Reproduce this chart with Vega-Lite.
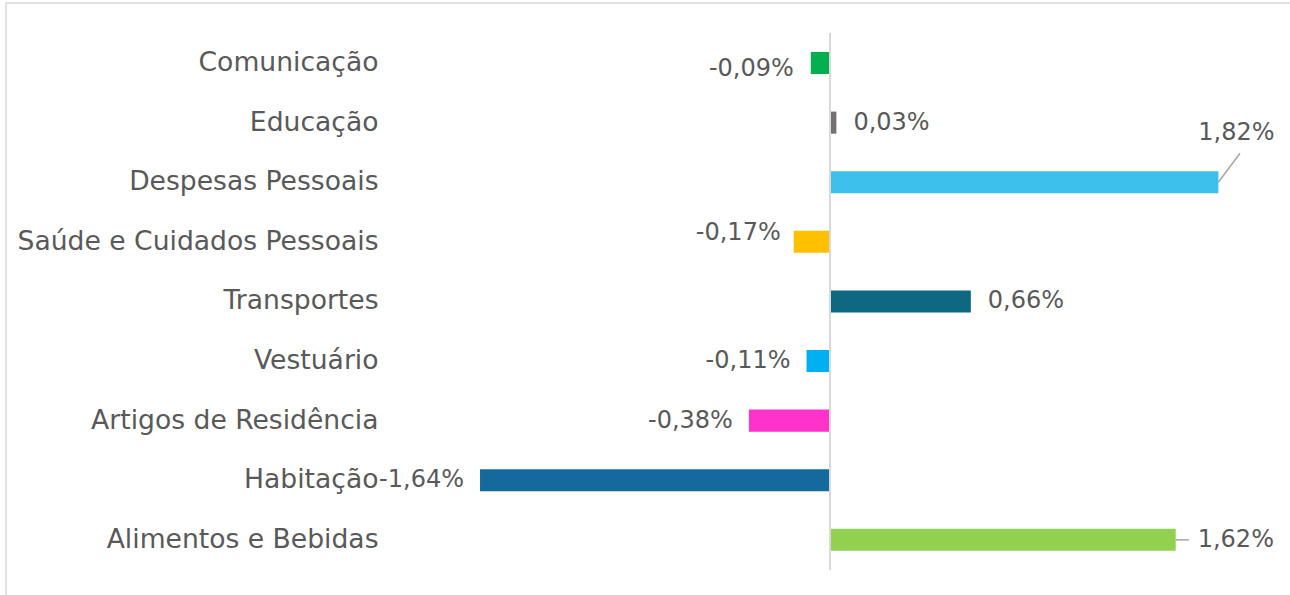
{
  "$schema": "https://vega.github.io/schema/vega-lite/v6.json",
  "width": 1290,
  "height": 600,
  "autosize": {"type": "none"},
  "padding": {"left": 6, "top": 3, "right": 0, "bottom": 0},
  "background": "#ffffff",
  "config": {
    "view": {"stroke": "#d9d9d9", "strokeWidth": 1.5},
    "locale": {"number": {"decimal": ",", "thousands": ".", "grouping": [3], "currency": ["", "%"], "minus": "-"}},
    "text": {"font": "DejaVu Sans", "fontSize": 24, "color": "#595959", "baseline": "middle"}
  },
  "data": {"values": [
    {"cat": "Comunicação", "value": -0.09},
    {"cat": "Educação", "value": 0.03},
    {"cat": "Despesas Pessoais", "value": 1.82},
    {"cat": "Saúde e Cuidados Pessoais", "value": -0.17},
    {"cat": "Transportes", "value": 0.66},
    {"cat": "Vestuário", "value": -0.11},
    {"cat": "Artigos de Residência", "value": -0.38},
    {"cat": "Habitação", "value": -1.64},
    {"cat": "Alimentos e Bebidas", "value": 1.62}
  ]},
  "encoding": {
    "y": {
      "field": "cat", "type": "nominal", "sort": null,
      "scale": {"paddingInner": 0.63, "paddingOuter": 0.8487, "align": 0.4844},
      "axis": {"title": null, "ticks": false, "domain": false, "grid": false, "labelPadding": 0, "offset": -372,
               "labelFont": "DejaVu Sans", "labelFontSize": 26.6, "labelColor": "#595959", "labelLimit": 500, "labelAlign": "right", "labelBaseline": "middle"}
    },
    "x": {"field": "value", "type": "quantitative", "scale": {"domain": [-3.8613, 2.1837], "nice": false}, "axis": null}
  },
  "layer": [
    {
      "mark": {"type": "bar"},
      "encoding": {
        "color": {"field": "cat", "type": "nominal", "legend": null,
          "scale": {"domain": ["Comunicação", "Educação", "Despesas Pessoais", "Saúde e Cuidados Pessoais", "Transportes", "Vestuário", "Artigos de Residência", "Habitação", "Alimentos e Bebidas"],
                    "range": ["#00B050", "#767171", "#3DC0EB", "#FFC000", "#0E6882", "#00B0F0", "#FF33CC", "#146A9C", "#92D050"]}}
      }
    },
    {
      "transform": [{"filter": "datum.value < 0 && datum.cat != 'Comunicação' && datum.cat != 'Saúde e Cuidados Pessoais'"}],
      "mark": {"type": "text", "align": "right", "dx": -16},
      "encoding": {"text": {"field": "value", "type": "quantitative", "format": "$.2f"}}
    },
    {
      "transform": [{"filter": "datum.cat == 'Comunicação'"}],
      "mark": {"type": "text", "align": "right", "dx": -17, "dy": 6},
      "encoding": {"text": {"field": "value", "type": "quantitative", "format": "$.2f"}}
    },
    {
      "transform": [{"filter": "datum.cat == 'Saúde e Cuidados Pessoais'"}],
      "mark": {"type": "text", "align": "right", "dx": -13, "dy": -9},
      "encoding": {"text": {"field": "value", "type": "quantitative", "format": "$.2f"}}
    },
    {
      "transform": [{"filter": "datum.cat == 'Educação' || datum.cat == 'Transportes'"}],
      "mark": {"type": "text", "align": "left", "dx": 17},
      "encoding": {"text": {"field": "value", "type": "quantitative", "format": "$.2f"}}
    },
    {
      "transform": [{"filter": "datum.cat == 'Alimentos e Bebidas'"}],
      "mark": {"type": "text", "align": "left", "dx": 22},
      "encoding": {"text": {"field": "value", "type": "quantitative", "format": "$.2f"}}
    },
    {
      "transform": [{"filter": "datum.cat == 'Despesas Pessoais'"}],
      "mark": {"type": "text", "align": "center", "dx": 18, "dy": -49},
      "encoding": {"text": {"field": "value", "type": "quantitative", "format": "$.2f"}}
    },
    {
      "transform": [{"filter": "datum.cat == 'Alimentos e Bebidas'"}],
      "mark": {"type": "rule", "color": "#a6a6a6", "strokeWidth": 1.5},
      "encoding": {"x2": {"datum": 1.682}}
    },
    {
      "transform": [{"filter": "datum.cat == 'Despesas Pessoais'"}],
      "mark": {"type": "rule", "color": "#a6a6a6", "strokeWidth": 1.5, "y2Offset": -29},
      "encoding": {"x2": {"datum": 1.921}, "y2": {"field": "cat"}}
    },
    {
      "mark": {"type": "rule", "color": "#d9d9d9", "strokeWidth": 2, "yOffset": -30, "y2Offset": 30},
      "encoding": {"x": {"datum": 0}, "y": {"datum": "Comunicação"}, "y2": {"datum": "Alimentos e Bebidas"}}
    }
  ]
}
